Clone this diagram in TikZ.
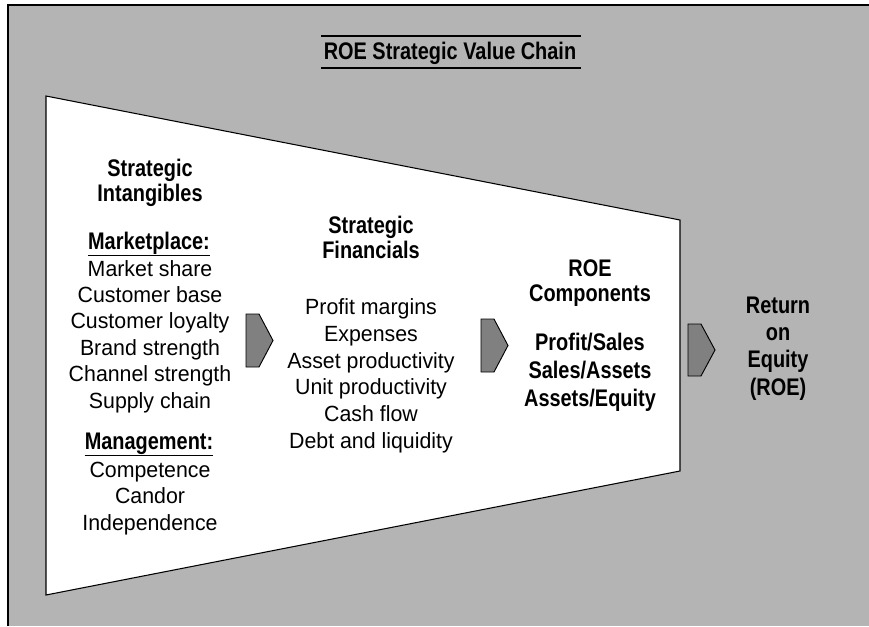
\documentclass[tikz,border=0pt]{standalone}
\usepackage{fontspec}
\setmainfont{Liberation Sans}[FakeStretch=0.97]
\newfontfamily\boldf{Liberation Sans}[FakeStretch=0.83]
\definecolor{bggray}{HTML}{B4B4B4}
\definecolor{arrgray}{HTML}{808080}
\begin{document}
\begin{tikzpicture}[x=0.75pt,y=-0.75pt,
  reg/.style={font=\fontsize{16.5pt}{19.8pt}\selectfont, align=center, inner sep=0pt, anchor=base},
  hd/.style={font=\boldf\bfseries\fontsize{18pt}{18.75pt}\selectfont, align=center, inner sep=0pt, anchor=base},
  chev/.style={draw=black, fill=arrgray, line width=0.7pt, line join=miter}]
\useasboundingbox (0,0) rectangle (869,626);
% background panel
\fill[bggray] (8,5) rectangle (869,626);
\draw[line width=1.1pt] (8,626) -- (8,5) -- (869,5);
% title
\node[hd] (title) at (450,59.3) {ROE Strategic Value Chain};
\draw[line width=1.3pt] (321,36) -- (581,36);
\draw[line width=1.3pt] (321,67.7) -- (581,67.7);
% funnel
\draw[fill=white, line width=0.8pt] (46,96) -- (680,220) -- (680,471) -- (46,595) -- cycle;
% column 1 (multi-line nodes: base = baseline of last line)
\node[hd] (si) at (150,201) {Strategic\\Intangibles};
\node[hd] (mkt) at (149,249) {Marketplace:};
\draw[line width=1pt] ([yshift=-5pt]mkt.base west) -- ([yshift=-5pt]mkt.base east);
\node[reg] (mktl) at (150,408) {Market share\\Customer base\\Customer loyalty\\Brand strength\\Channel strength\\Supply chain};
\node[hd] (mgt) at (149,449) {Management:};
\draw[line width=1pt] ([yshift=-5pt]mgt.base west) -- ([yshift=-5pt]mgt.base east);
\node[reg] (mgtl) at (150,530.1) {Competence\\Candor\\Independence};
% column 2
\node[hd] (sf) at (371,258.3) {Strategic\\Financials};
\node[reg, font=\fontsize{16.5pt}{20pt}\selectfont] (sfl) at (371,448.3) {Profit margins\\Expenses\\Asset productivity\\Unit productivity\\Cash flow\\Debt and liquidity};
% column 3
\node[hd] (rc) at (590,301.7) {ROE\\Components};
\node[hd, font=\boldf\bfseries\fontsize{18pt}{21pt}\selectfont] (rcl) at (590,406) {Profit/Sales\\Sales/Assets\\Assets/Equity};
% column 4
\node[hd, font=\boldf\bfseries\fontsize{18pt}{20.5pt}\selectfont] (roe) at (778,395.3) {Return\\on\\Equity\\(ROE)};
% chevrons
\draw[chev] (246,314) -- (259,314) -- (273,340.5) -- (259,367) -- (246,367) -- cycle;
\draw[chev] (481,319) -- (494,319) -- (508,345.5) -- (494,372) -- (481,372) -- cycle;
\draw[chev] (688,324) -- (701,324) -- (715,350) -- (701,376) -- (688,376) -- cycle;
\end{tikzpicture}
\end{document}
